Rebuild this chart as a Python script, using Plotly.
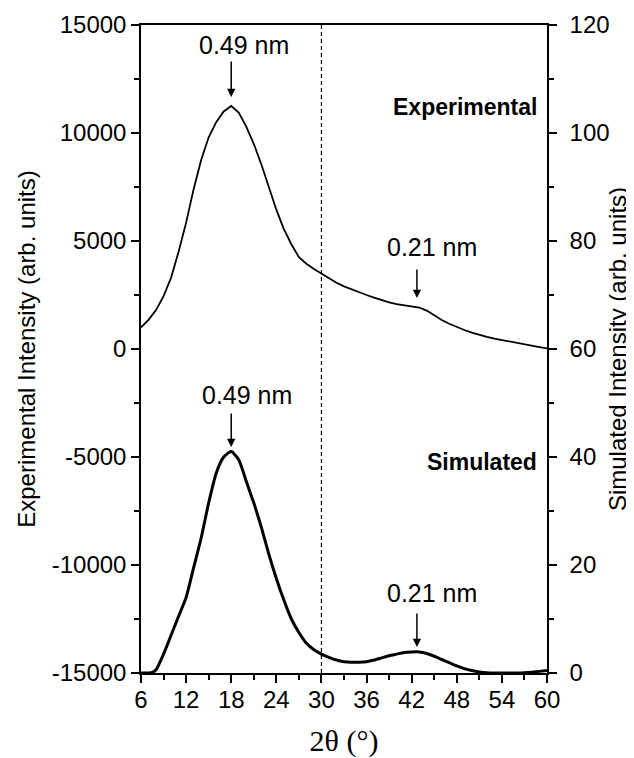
import plotly.graph_objects as go

# ---- data ----
two_theta_exp = [6, 7, 8, 9, 10, 11, 12, 13, 14, 15, 16, 17, 18, 19, 20, 21, 22, 23, 24, 25,
                 26, 27, 28, 29, 30, 31, 32, 33, 34, 35, 36, 37, 38, 39, 40, 41, 42, 43, 44,
                 45, 46, 47, 48, 49, 50, 51, 52, 53, 54, 55, 56, 57, 58, 59, 60]
intensity_exp = [1000, 1350, 1800, 2450, 3300, 4500, 5850, 7400, 8750, 9800, 10500, 11000, 11250,
                 10950, 10300, 9500, 8550, 7500, 6450, 5550, 4850, 4250, 3950, 3700, 3480, 3250,
                 3070, 2900, 2760, 2620, 2500, 2380, 2260, 2160, 2080, 2020, 1980, 1920, 1780,
                 1560, 1340, 1170, 1020, 880, 760, 650, 560, 480, 410, 350, 300, 230, 160, 90, 30]

two_theta_sim = [6, 7, 7.5, 8, 9, 10, 11, 12, 13, 14, 15, 16, 17, 18, 19, 20, 21, 22, 23, 24,
                 25, 26, 27, 28, 29, 30, 31, 32, 33, 34, 35, 36, 37, 38, 39, 40, 41, 42, 43,
                 44, 45, 46, 47, 48, 49, 50, 51, 52, 53, 54, 55, 56, 57, 58, 59, 60]
intensity_sim = [0, 0, 0.1, 0.6, 3.5, 7, 10.5, 14, 19.5, 25, 31.5, 37, 40, 41, 39.5, 35.5, 31.5,
                 27, 22, 17.5, 13.5, 10, 7.5, 5.5, 4.3, 3.5, 2.9, 2.4, 2.1, 2.0, 2.0, 2.1, 2.4,
                 2.8, 3.2, 3.5, 3.8, 3.9, 3.9, 3.6, 3.1, 2.5, 1.9, 1.3, 0.8, 0.45, 0.2, 0.05, 0,
                 0, 0, 0, 0.05, 0.15, 0.3, 0.45]

x_ticks = [6, 12, 18, 24, 30, 36, 42, 48, 54, 60]
y_left_ticks = [-15000, -10000, -5000, 0, 5000, 10000, 15000]
y_left_labels = ["-15000", "-10000", "-5000", "0", "5000", "10000", "15000"]
y_right_ticks = [0, 20, 40, 60, 80, 100, 120]

FONT = "Liberation Sans, Arial, sans-serif"

fig = go.Figure()
fig.add_trace(go.Scatter(x=two_theta_exp, y=intensity_exp, mode="lines",
                         line=dict(color="black", width=1.8), yaxis="y", showlegend=False))
fig.add_trace(go.Scatter(x=two_theta_sim, y=intensity_sim, mode="lines",
                         line=dict(color="black", width=3, shape="spline", smoothing=0.6),
                         yaxis="y2", showlegend=False))

fig.add_shape(type="line", xref="x", yref="paper", x0=30, x1=30, y0=0, y1=1,
              line=dict(color="black", width=1.2, dash="4px,3px"))

ann = []
def arrow(x, y, yref, ay):
    ann.append(dict(x=x, y=y, xref="x", yref=yref, text="", showarrow=True, ax=0, ay=ay,
                    arrowhead=2, arrowsize=1.1, arrowwidth=1.5, arrowcolor="black"))

def label(x, y, yref, text, bold=False, xanchor="center", size=25):
    ann.append(dict(x=x, y=y, xref="x", yref=yref, text=("<b>%s</b>" % text) if bold else text,
                    showarrow=False, xanchor=xanchor, yanchor="middle",
                    font=dict(family=FONT, size=size, color="black")))

arrow(18, 11667, "y", -37)
label(19.7, 14074, "y", "0.49 nm")
arrow(42.7, 2361, "y", -30)
label(44.7, 4722, "y", "0.21 nm")
arrow(18, 41.85, "y2", -35)
label(20.1, 51.5, "y2", "0.49 nm")
arrow(42.7, 4.8, "y2", -35)
label(44.7, 14.8, "y2", "0.21 nm")
label(58.9, 11204, "y", "Experimental", bold=True, xanchor="right", size=23)
label(58.9, 39.07, "y2", "Simulated", bold=True, xanchor="right", size=23)

axis_common = dict(showline=True, linecolor="black", linewidth=1.5, ticks="outside",
                   ticklen=8, tickwidth=1.5, tickcolor="black", showgrid=False, zeroline=False,
                   automargin=False,
                   tickfont=dict(family=FONT, size=24, color="black"))

# page body has an 8px default margin, so the figure is sized/offset to compensate
fig.update_layout(
    width=626, height=750,
    margin=dict(l=133, r=87, t=17, b=85),
    paper_bgcolor="white", plot_bgcolor="white",
    annotations=ann,
    xaxis=dict(range=[6, 60], tickvals=x_ticks, mirror=True,
               minor=dict(ticks="outside", ticklen=5, tickwidth=1.5, dtick=3, tick0=6, tickcolor="black"),
               title=dict(text="2θ (°)", font=dict(family="Liberation Serif, Times New Roman, serif", size=30, color="black"), standoff=21),
               ticklabelstandoff=-4,
               **axis_common),
    yaxis=dict(range=[-15000, 15000], tickvals=y_left_ticks, ticktext=y_left_labels,
               minor=dict(ticks="outside", ticklen=5, tickwidth=1.5, dtick=2500, tick0=0, tickcolor="black"),
               title=dict(text="Experimental Intensity (arb. units)", font=dict(family=FONT, size=24, color="black"), standoff=9),
               ticklabelstandoff=0,
               **axis_common),
    yaxis2=dict(range=[0, 120], tickvals=y_right_ticks, overlaying="y", side="right",
                minor=dict(ticks="outside", ticklen=5, tickwidth=1.5, dtick=10, tick0=0, tickcolor="black"),
                title=dict(text="Simulated Intensity (arb. units)", font=dict(family=FONT, size=24, color="black"), standoff=1),
                ticklabelstandoff=8,
                **axis_common),
)

fig.write_html("out.html")
